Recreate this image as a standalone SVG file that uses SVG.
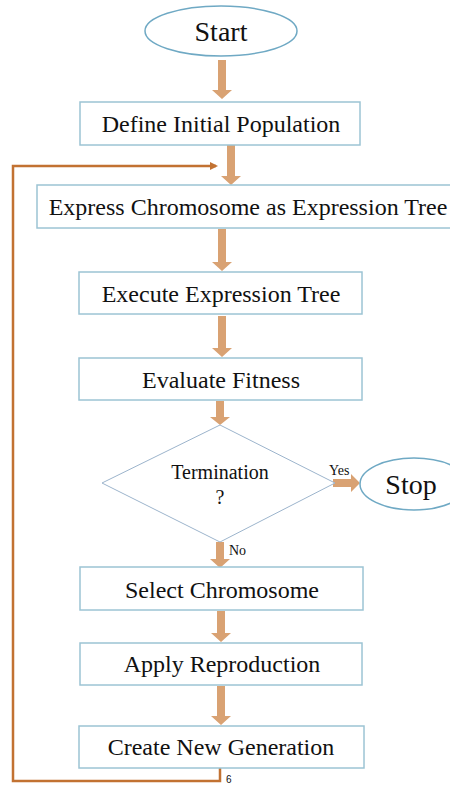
<svg xmlns="http://www.w3.org/2000/svg" width="450" height="785" viewBox="0 0 450 785">
<defs>
<style>
.box{fill:#fff;stroke:#9cc4d4;stroke-width:1.5}
.ell{fill:#fff;stroke:#6fa9c4;stroke-width:1.5}
text{font-family:"Liberation Serif","Times New Roman",serif;fill:#111}
.t{font-size:24px;text-anchor:middle}
.big{font-size:28px;text-anchor:middle}
.q{font-size:20px;text-anchor:middle}
.s{font-size:14px}
.arr{fill:#d9a273}
.loop{fill:none;stroke:#c27232;stroke-width:2.5}
</style>
<marker id="lh" markerWidth="8" markerHeight="8" refX="6" refY="4" orient="auto" markerUnits="userSpaceOnUse"><path d="M0,0 L8,4 L0,8 z" fill="#c27232"/></marker>
</defs>
<rect width="450" height="785" fill="#fff"/>
<g id="connectors">
<path class="arr" d="M218,60 h8 v30 h6 l-10,9 l-10,-9 h6 z"/>
<path class="arr" d="M227,145 h8 v31 h6 l-10,9 l-10,-9 h6 z"/>
<path class="arr" d="M218,229 h8 v33 h6 l-10,9 l-10,-9 h6 z"/>
<path class="arr" d="M218,316 h8 v32 h6 l-10,9 l-10,-9 h6 z"/>
<path class="arr" d="M216,401 h8 v16 h6 l-10,8 l-10,-8 h6 z"/>
<path class="arr" d="M333,479 h18 v-5 l9,9 l-9,9 v-5 h-18 z"/>
<path class="arr" d="M216,542 h8 v17 h6 l-10,9 l-10,-9 h6 z"/>
<path class="arr" d="M217,611 h8 v22 h6 l-10,9 l-10,-9 h6 z"/>
<path class="arr" d="M217,686 h8 v30 h6 l-10,9 l-10,-9 h6 z"/>
<path class="loop" d="M220,768 V781 H13 V166 H216" marker-end="url(#lh)"/>
<text class="s" x="329" y="475">Yes</text>
<text class="s" x="229" y="555">No</text>
<text x="226" y="783" style="font-family:'Liberation Sans',Arial,sans-serif;font-size:10px" fill="#222">6</text>
</g>
<g id="start"><ellipse class="ell" cx="221" cy="31" rx="76" ry="25"/><text class="big" x="221" y="41">Start</text></g>
<g id="define"><rect class="box" x="80" y="102" width="280" height="43"/><text class="t" x="221" y="132">Define Initial Population</text></g>
<g id="express"><rect class="box" x="37" y="185" width="430" height="43"/><text class="t" x="248" y="215">Express Chromosome as Expression Tree</text></g>
<g id="execute"><rect class="box" x="79" y="272" width="283" height="42"/><text class="t" x="221" y="302">Execute Expression Tree</text></g>
<g id="evaluate"><rect class="box" x="79" y="358" width="283" height="42"/><text class="t" x="221" y="388">Evaluate Fitness</text></g>
<g id="termination"><polygon points="220,425 335,483 220,542 102,483" fill="#fff" stroke="#9cb4cc" stroke-width="1"/><text class="q" x="220" y="479">Termination</text><text class="q" x="220" y="504">?</text></g>
<g id="stop"><ellipse class="ell" cx="414" cy="484" rx="54" ry="26"/><text class="big" x="411" y="494">Stop</text></g>
<g id="select"><rect class="box" x="80" y="567" width="283" height="43"/><text class="t" x="222" y="598">Select Chromosome</text></g>
<g id="apply"><rect class="box" x="80" y="643" width="282" height="42"/><text class="t" x="222" y="672">Apply Reproduction</text></g>
<g id="create"><rect class="box" x="79" y="726" width="285" height="42"/><text class="t" x="221" y="755">Create New Generation</text></g>
</svg>
